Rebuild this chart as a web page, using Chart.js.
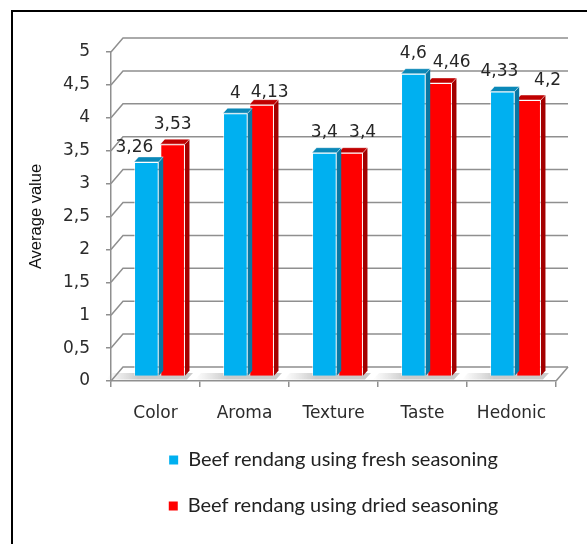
<!DOCTYPE html>
<html lang="en">
<head>
  <meta charset="UTF-8" />
  <title>Beef rendang — average sensory value</title>
  <script src="https://cdn.jsdelivr.net/npm/chart.js"></script>
  <style>
    html, body { margin: 0; padding: 0; background: #fff; overflow: hidden; }
    #wrap { position: relative; width: 587px; height: 544px; overflow: hidden; }
    #frame { position: absolute; left: 11px; top: 10px; width: 640px; height: 600px;
             border: 2.5px solid #000; box-sizing: border-box; }
    canvas { position: absolute; left: 0; top: 0; }
  </style>
</head>
<body>
  <div id="wrap">
    <div id="frame"></div>
    <canvas id="chart" width="587" height="544"></canvas>
  </div>

  <script>
    const categories = ["Color", "Aroma", "Texture", "Taste", "Hedonic"];
    const freshSeasoning = [3.26, 4, 3.4, 4.6, 4.33];
    const driedSeasoning = [3.53, 4.13, 3.4, 4.46, 4.2];
    const seriesNames = ["Beef rendang using fresh seasoning", "Beef rendang using dried seasoning"];

    // fake 3D: how far the bars sit behind the front axis, their depth, and the back wall
    const BAR_SHIFT = { x: 4, y: -4.6 };
    const BAR_DEPTH = { x: 4.5, y: -5 };
    const WALL = { x: 12, y: -14 };
    const faces = [
      { top: "#0a88b8", side: "#0877a3" },
      { top: "#c00000", side: "#a30000" }
    ];
    const gridColor = "#8f8f8f";
    // Excel moved a few labels around to dodge each other
    const labelNudge = [
      [[-12, 6], [0, 0], [0, 0], [0, 0], [-3, 0]],
      [[0, 0], [8, 8], [12, 0], [12, 0], [19, 1]]
    ];

    const comma = v => String(v).replace(".", ",");

    const depth3d = {
      id: "depth3d",
      beforeDatasetsDraw(chart) {
        const { ctx, chartArea: a, scales: { x, y } } = chart;
        const y0 = y.getPixelForValue(0);
        ctx.save();

        // soft shadows on the floor next to each bar pair
        const m0 = chart.getDatasetMeta(0).data;
        const m1 = chart.getDatasetMeta(1).data;
        m0.forEach((b, i) => {
          const r = m1[i];
          const gl = b.x - b.width / 2 + BAR_SHIFT.x;
          const gr = r.x + r.width / 2 + BAR_SHIFT.x;
          const g = ctx.createLinearGradient(gl - 28, 0, gl + 4, 0);
          g.addColorStop(0, "rgba(170,170,170,0)");
          g.addColorStop(1, "rgba(160,160,160,0.55)");
          ctx.fillStyle = g;
          ctx.beginPath();
          ctx.moveTo(gl - 28, y0 - 1.5);
          ctx.lineTo(gl - 22, y0 - 8);
          ctx.lineTo(gr + 8, y0 - 8);
          ctx.lineTo(gr + 2, y0 - 1.5);
          ctx.closePath();
          ctx.fill();
        });

        ctx.strokeStyle = gridColor;
        ctx.lineWidth = 1.5;
        // floor outline
        ctx.beginPath();
        ctx.moveTo(a.right, y0);
        ctx.lineTo(a.right + WALL.x, y0 + WALL.y);
        ctx.stroke();
        // gridlines: diagonal on the side wall, then across the back wall
        y.ticks.forEach(t => {
          const py = y.getPixelForValue(t.value);
          ctx.beginPath();
          ctx.moveTo(a.left, py);
          ctx.lineTo(a.left + WALL.x, py + WALL.y);
          ctx.lineTo(a.right + WALL.x, py + WALL.y);
          ctx.stroke();
        });
        ctx.restore();

        ctx.save();
        ctx.translate(BAR_SHIFT.x, BAR_SHIFT.y);
      },
      afterDatasetDraw(chart, args) {
        const { ctx } = chart;
        const f = faces[args.index];
        ctx.save();
        ctx.strokeStyle = "rgba(255,255,255,0.55)";
        ctx.lineWidth = 0.8;
        args.meta.data.forEach(bar => {
          const l = bar.x - bar.width / 2, r = bar.x + bar.width / 2;
          const t = bar.y, b = bar.base;
          ctx.fillStyle = f.side;
          ctx.beginPath();
          ctx.moveTo(r, t);
          ctx.lineTo(r + BAR_DEPTH.x, t + BAR_DEPTH.y);
          ctx.lineTo(r + BAR_DEPTH.x, b + BAR_DEPTH.y);
          ctx.lineTo(r, b);
          ctx.closePath();
          ctx.fill();
          ctx.fillStyle = f.top;
          ctx.beginPath();
          ctx.moveTo(l, t);
          ctx.lineTo(l + BAR_DEPTH.x, t + BAR_DEPTH.y);
          ctx.lineTo(r + BAR_DEPTH.x, t + BAR_DEPTH.y);
          ctx.lineTo(r, t);
          ctx.closePath();
          ctx.fill();
          ctx.stroke();
        });
        ctx.restore();
      },
      afterDatasetsDraw(chart) {
        const { ctx } = chart;
        ctx.restore();
        ctx.save();
        ctx.font = "17px 'DejaVu Sans'";
        ctx.fillStyle = "#262626";
        ctx.textAlign = "center";
        ctx.textBaseline = "middle";
        chart.data.datasets.forEach((ds, di) => {
          chart.getDatasetMeta(di).data.forEach((bar, i) => {
            const [dx, dy] = labelNudge[di][i];
            ctx.fillText(comma(ds.data[i]), bar.x + BAR_SHIFT.x + dx, bar.y + BAR_SHIFT.y - 20 + dy);
          });
        });
        ctx.restore();
      }
    };

    new Chart(document.getElementById("chart"), {
      type: "bar",
      data: {
        labels: categories,
        datasets: [
          { label: seriesNames[0], data: freshSeasoning, backgroundColor: "#00b0f0" },
          { label: seriesNames[1], data: driedSeasoning, backgroundColor: "#ff0000" }
        ]
      },
      options: {
        responsive: false,
        animation: false,
        layout: { padding: { left: 0, right: 31, top: 52, bottom: 18 } },
        datasets: {
          bar: {
            categoryPercentage: 0.59,
            barPercentage: 0.94,
            borderWidth: 1,
            borderColor: "rgba(255,255,255,0.55)",
            clip: false
          }
        },
        scales: {
          x: {
            ticks: { padding: 16, maxRotation: 0, color: "#2b2b2b", font: { family: "DejaVu Sans", size: 17 } },
            grid: { drawOnChartArea: false, offset: true, tickLength: 6, color: gridColor, lineWidth: 1.5 },
            border: { color: gridColor, width: 1.5 },
            afterFit: s => { s.height = 43; }
          },
          y: {
            min: 0,
            max: 5,
            ticks: { stepSize: 0.5, padding: 16, color: "#2b2b2b", font: { family: "DejaVu Sans", size: 17 },
                     callback: v => comma(v) },
            grid: { drawOnChartArea: false, tickLength: 5, color: gridColor, lineWidth: 1.5 },
            border: { color: gridColor, width: 1.5 },
            title: { display: true, text: "Average value", color: "#111",
                     font: { family: "Liberation Sans", size: 16.5 }, padding: { top: 27, bottom: 0 } },
            afterFit: s => { s.width = 111; }
          }
        },
        plugins: {
          tooltip: { enabled: false },
          legend: {
            position: "bottom",
            fullSize: false,
            labels: {
              boxWidth: 9,
              boxHeight: 9,
              padding: 26,
              color: "#222",
              font: { family: "Lato", size: 20 },
              generateLabels: chart =>
                Chart.defaults.plugins.legend.labels.generateLabels(chart).map(l => ({ ...l, lineWidth: 0 }))
            }
          }
        }
      },
      plugins: [depth3d]
    });
  </script>
</body>
</html>
